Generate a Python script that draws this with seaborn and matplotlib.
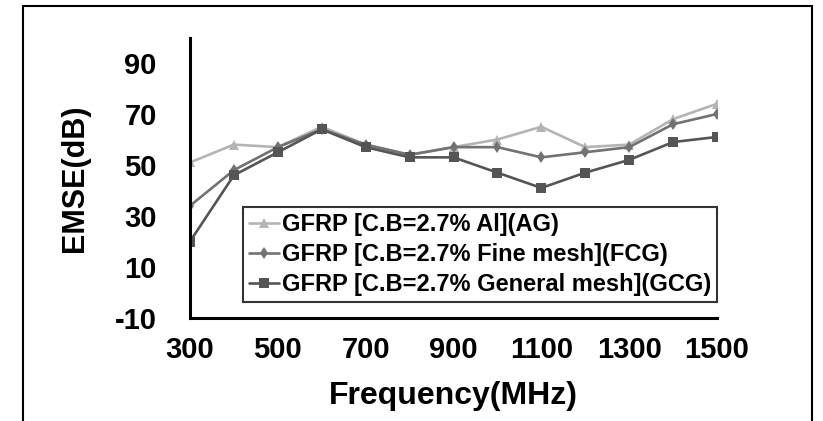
import numpy as np
import pandas as pd
import matplotlib
matplotlib.use("Agg")
import matplotlib.pyplot as plt
import seaborn as sns
from matplotlib.patches import Rectangle
from matplotlib.ticker import MultipleLocator, FixedLocator

frequency = [300, 400, 500, 600, 700, 800, 900, 1000, 1100, 1200, 1300, 1400, 1500]
ag = [51, 58, 57, 65, 58, 54, 57, 60, 65, 57, 58, 68, 74]
fcg = [34, 48, 57, 64, 58, 54, 57, 57, 53, 55, 57, 66, 70]
gcg = [20, 46, 55, 64, 57, 53, 53, 47, 41, 47, 52, 59, 61]
series_names = ["GFRP [C.B=2.7% Al](AG)",
                "GFRP [C.B=2.7% Fine mesh](FCG)",
                "GFRP [C.B=2.7% General mesh](GCG)"]
x_ticks = [300, 500, 700, 900, 1100, 1300, 1500]
y_ticks = [-10, 10, 30, 50, 70, 90]

df = pd.DataFrame({
    "Frequency": frequency * 3,
    "EMSE": ag + fcg + gcg,
    "Series": [series_names[0]] * len(frequency) + [series_names[1]] * len(frequency)
              + [series_names[2]] * len(frequency),
})

sns.set_theme(style="white")
plt.rcParams['font.family'] = ['Liberation Sans', 'DejaVu Sans']
plt.rcParams['font.weight'] = 'bold'
plt.rcParams['axes.unicode_minus'] = False

fig = plt.figure(figsize=(8.23, 4.21), dpi=100)
ax = fig.add_axes([190 / 823, 1 - 318 / 421, 527 / 823, 280.5 / 421])

palette = {series_names[0]: "#b4b4b4", series_names[1]: "#727272", series_names[2]: "#555555"}
markers = {series_names[0]: "^", series_names[1]: "d", series_names[2]: "s"}
sizes_ms = {series_names[0]: 6, series_names[1]: 6, series_names[2]: 7}
sns.lineplot(data=df, x="Frequency", y="EMSE", hue="Series", style="Series",
             palette=palette, markers=markers, dashes=False, linewidth=1.9,
             markersize=6.5, markeredgewidth=0, ax=ax)

ax.set_xlim(300, 1500)
ax.set_ylim(-10, 100)
ax.xaxis.set_major_locator(FixedLocator(x_ticks))
ax.xaxis.set_minor_locator(MultipleLocator(100))
ax.yaxis.set_major_locator(FixedLocator(y_ticks))
ax.yaxis.set_minor_locator(FixedLocator([0, 20, 40, 60, 80, 100]))
ax.tick_params(axis='both', which='both', direction='in', length=5, width=1.6, color='black')
ax.tick_params(axis='x', which='major', pad=13, labelsize=21)
ax.tick_params(axis='y', which='major', pad=24, labelsize=21)
for lab in ax.get_xticklabels() + ax.get_yticklabels():
    lab.set_fontweight('bold')
    lab.set_color('black')

for s in ['top', 'right']:
    ax.spines[s].set_visible(False)
for s in ['left', 'bottom']:
    ax.spines[s].set_color('black')
    ax.spines[s].set_linewidth(2.2)

ax.set_xlabel("Frequency(MHz)", fontsize=23, fontweight='bold', color='black')
ax.set_ylabel("EMSE(dB)", fontsize=22, fontweight='bold', color='black')
ax.xaxis.set_label_coords(0.5, -0.225)
ax.yaxis.set_label_coords(-0.19, 0.5)

leg = ax.legend(loc='lower right', bbox_to_anchor=(1.0, 0.057), borderaxespad=0,
                frameon=True, fancybox=False, fontsize=17, handlelength=1.3,
                handletextpad=0.1, labelspacing=0.3, borderpad=0.25, title=None)
leg.get_frame().set_edgecolor('black')
leg.get_frame().set_linewidth(1.5)
for t in leg.get_texts():
    t.set_fontweight('bold')
    t.set_color('black')

fig.patches.append(Rectangle((23 / 823, -0.1), (812 - 23) / 823, 1.1 - 6 / 421,
                             transform=fig.transFigure, fill=False,
                             edgecolor='black', linewidth=1.5))

fig.savefig("out.png", dpi=100)
